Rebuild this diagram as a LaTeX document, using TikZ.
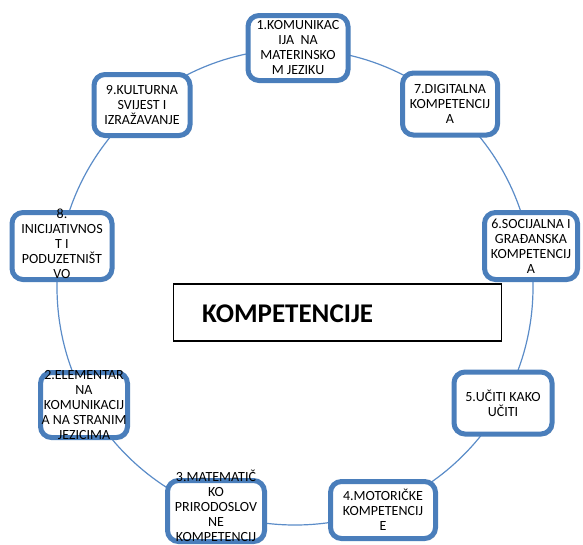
\documentclass[tikz,border=0pt]{standalone}
\usepackage{fontspec}
\setmainfont{Carlito}
\usetikzlibrary{shadows}
\definecolor{boxblue}{HTML}{4A7EBB}
\definecolor{ringblue}{HTML}{5B8CC8}
\begin{document}
\begin{tikzpicture}[x=1pt,y=-1pt,
  compbox/.style={draw=boxblue, line width=5pt, rounded corners=11pt, fill=white,
    drop shadow={shadow xshift=2pt,shadow yshift=-2pt,opacity=0.3}},
  comptext/.style={font=\fontsize{14}{15}\selectfont, align=center, inner sep=0pt},
  titlebox/.style={draw=black, line width=1.6pt, fill=white, inner sep=0pt}]
\useasboundingbox (0,0) rectangle (583,544);
\draw[ringblue, line width=1.2pt] (295,287) circle[radius=238];
% boxes
\node[compbox, minimum width=100pt, minimum height=65pt] (b1) at (298,48) {};
\node[compbox, minimum width=95pt, minimum height=62pt] (b7) at (450,104) {};
\node[compbox, minimum width=96pt, minimum height=61pt] (b9) at (142,105) {};
\node[compbox, minimum width=100pt, minimum height=67pt] (b8) at (62,246) {};
\node[compbox, minimum width=93pt, minimum height=67pt] (b6) at (531,246) {};
\node[compbox, minimum width=98pt, minimum height=62pt] (b5) at (503,403) {};
\node[compbox, minimum width=87pt, minimum height=65pt] (b2) at (84,405) {};
\node[compbox, minimum width=97pt, minimum height=61pt] (b3) at (216,511) {};
\node[compbox, minimum width=105pt, minimum height=57pt] (b4) at (383,510) {};
% texts
\node[comptext] (t1) at (b1) {1.KOMUNIKAC\\IJA~~NA\\MATERINSKO\\M JEZIKU};
\node[comptext] (t7) at (b7) {7.DIGITALNA\\KOMPETENCIJ\\A};
\node[comptext] (t9) at (b9) {9.KULTURNA\\SVIJEST I\\IZRAŽAVANJE};
\node[comptext] (t8) at ([yshift=2pt]b8.center) {8.\\INICIJATIVNOS\\T I\\PODUZETNIŠT\\VO};
\node[comptext] (t6) at (b6) {6.SOCIJALNA I\\GRAĐANSKA\\KOMPETENCIJ\\A};
\node[comptext] (t5) at (b5) {5.UČITI KAKO\\UČITI};
\node[comptext] (t2) at (b2) {2.ELEMENTAR\\NA\\KOMUNIKACIJ\\A NA STRANIM\\JEZICIMA};
\node[comptext] (t3) at ([yshift=-2pt]b3.center) {3.MATEMATIČ\\KO\\PRIRODOSLOV\\NE\\KOMPETENCIJ\\E};
\node[comptext] (t4) at (b4) {4.MOTORIČKE\\KOMPETENCIJ\\E};
% title
\node[titlebox, minimum width=328pt, minimum height=57pt] (title) at (337.5,312.5) {};
\node[anchor=base west, inner sep=0pt, font=\fontsize{27}{30}\selectfont\bfseries] (tt) at (202,322) {KOMPETENCIJE};
\end{tikzpicture}
\end{document}
